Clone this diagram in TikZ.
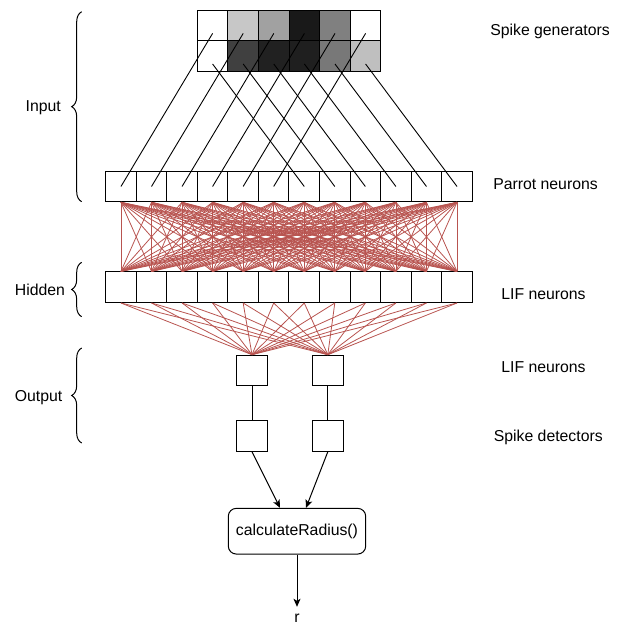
\documentclass[tikz,border=0pt]{standalone}
\usepackage{fontspec}
\setmainfont{Liberation Sans}
\usetikzlibrary{arrows.meta,calc,decorations.pathreplacing}
\definecolor{synred}{HTML}{B85450}

\begin{document}
\begin{tikzpicture}[x=1pt,y=-1pt,font=\fontsize{15.8}{19}\selectfont,
px/.style={draw,line width=1pt,fill=black!#1,minimum width=30.6pt,minimum height=30.6pt,inner sep=0pt},
nrn/.style={draw,line width=1pt,fill=white,minimum width=30.55pt,minimum height=30.6pt,inner sep=0pt},
syn/.style={synred,line width=0.8pt},
wire/.style={line width=0.9pt},
arr/.style={line width=1pt,-{Stealth[length=8pt,width=7pt,inset=2pt]}},
brc/.style={line width=1pt,decorate,decoration={brace,amplitude=10pt}},
lbl/.style={anchor=base,inner sep=0pt}]
\useasboundingbox (0,0) rectangle (623,626);
\foreach \i/\a/\b in %
{1/0/0,2/22/75,3/37/87,4/90/88,5/50/53,6/0/25} {
   \node[px=\a] (t\i) at (182+30.6*\i,25.4) {};
   \node[px=\b] (b\i) at (182+30.6*\i,56) {};
}
\foreach \i in {1,...,12} {
   \node[nrn] (p\i) at (90.4+30.55*\i,186.5) {};
   \node[nrn] (h\i) at (90.4+30.55*\i,287.2) {};
}
\node[nrn] (o1) at (252,370.5) {};
\node[nrn] (o2) at (327.8,370.5) {};
\node[nrn] (d1) at (252,436) {};
\node[nrn] (d2) at (327.8,436) {};
\node[draw,line width=1pt,rounded corners=8pt,minimum width=137.4pt,minimum height=45.7pt] (rad) at (297,531.2) {calculateRadius()};
\node[lbl] (r) at (297,622) {r};
\foreach \i/\j in %
{1/7,2/8,3/9,4/10,5/11,6/12} {
   \draw[wire] ($(t\i.center)+(0,8)$) -- (p\i.center);
   \draw[wire] ($(b\i.center)+(0,8)$) -- (p\j.center);
}
\foreach \i in {1,...,12} {
   \foreach \j in {1,...,12} \draw[syn] (p\i.south) -- (h\j.north);
   \draw[syn] (h\i.south) -- (o1.north);
   \draw[syn] (h\i.south) -- (o2.north);
}
\draw[line width=1pt] (o1) -- (d1);
\draw[line width=1pt] (o2) -- (d2);
\draw[arr] (d1.south) -- ($(rad.north)+(-17,0)$);
\draw[arr] (d2.south) -- ($(rad.north)+(9,0)$);
\draw[arr,shorten >=6.5pt] (rad) -- (r);
\node[lbl] (inp) at (43.3,111.7) {Input};
\node[lbl] (hid) at (40,295.5) {Hidden};
\node[lbl] (out) at (38.5,401.5) {Output};
\draw[brc] (81.7,201.7) -- (81.7,11.7);
\draw[brc] (81.7,316.7) -- (81.7,262.3);
\draw[brc] (81.7,443) -- (81.7,348);
\node[lbl] (gen) at (550,35.5) {Spike generators};
\node[lbl] (par) at (545.5,189.5) {Parrot neurons};
\node[lbl] (lif) at (543.5,299.5) {LIF neurons};
\node[lbl] (lif2) at (543.5,372.5) {LIF neurons};
\node[lbl] (det) at (548.3,441) {Spike detectors};
\end{tikzpicture}
\end{document}
